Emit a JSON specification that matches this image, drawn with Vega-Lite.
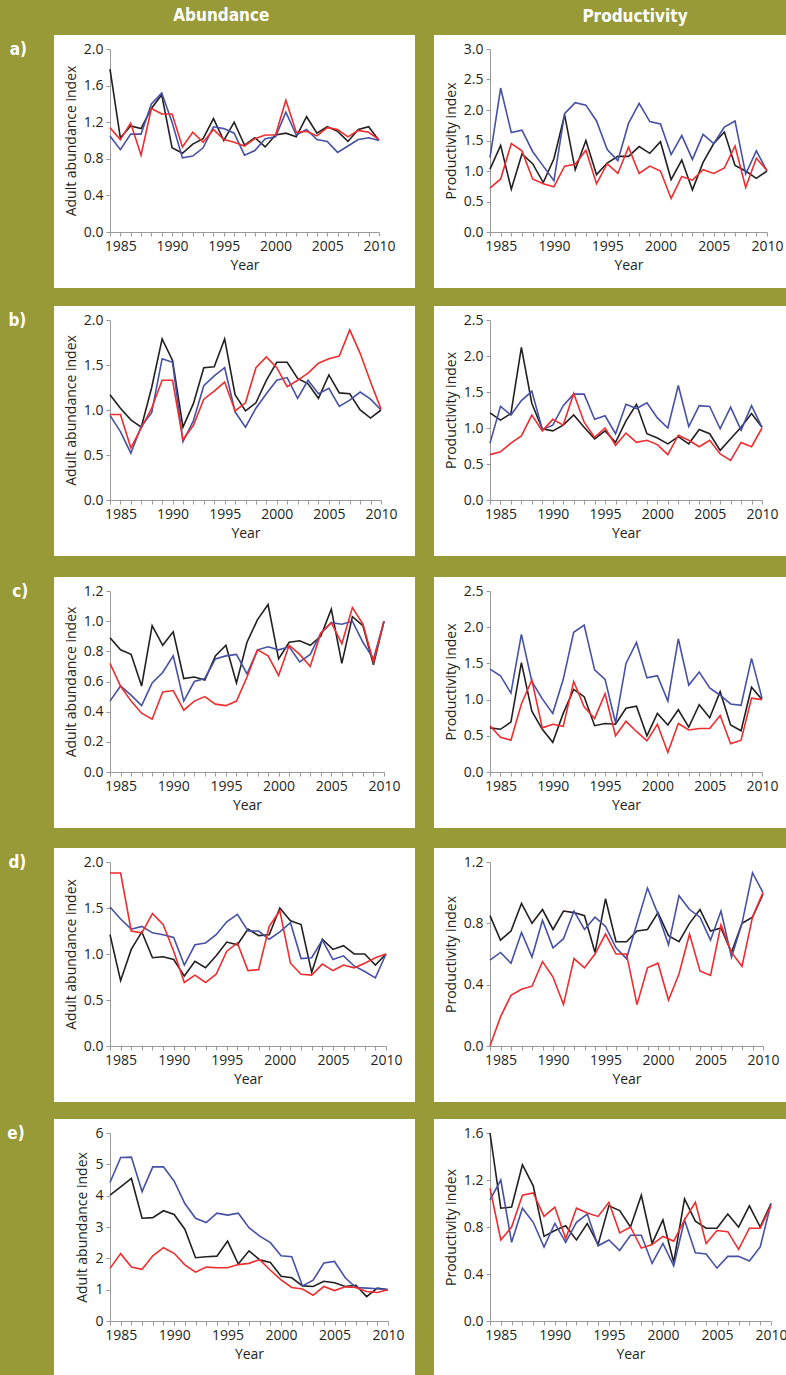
{
"$schema": "https://vega.github.io/schema/vega-lite/v6.json",
"background": "#979a37",
"padding": {"left": -49, "top": -48, "right": 0, "bottom": 0},
"bounds": "flush",
"title": {"text": "Abundance", "anchor": "start", "frame": "bounds", "offset": -73, "dx": 222},
"config": {
  "view": {"fill": "white", "stroke": "white", "strokeWidth": 112},
  "axis": {"grid": false, "domainColor": "#9a9a9a", "tickColor": "#9a9a9a", "tickSize": 4, "labelColor": "#231f20", "labelFont": "Open Sans", "labelFontSize": 14, "labelPadding": 3, "labelFlush": false, "titleFont": "Open Sans", "titleFontSize": 14, "titleFontWeight": "normal", "titleColor": "#231f20", "zindex": 1, "labelOverlap": false},
  "axisX": {"titlePadding": 5},
  "axisY": {"titlePadding": 5},
  "title": {"color": "white", "font": "DejaVu Sans Condensed, Open Sans", "fontWeight": "bold", "fontSize": 17}
},
"datasets": {
"aA": [{"year":1984,"black":1.78,"blue":1.05,"red":1.14},{"year":1985,"black":1.03,"blue":0.90,"red":1.01},{"year":1986,"black":1.16,"blue":1.07,"red":1.19},{"year":1987,"black":1.13,"blue":1.07,"red":0.84},{"year":1988,"black":1.35,"blue":1.40,"red":1.35},{"year":1989,"black":1.50,"blue":1.52,"red":1.29},{"year":1990,"black":0.92,"blue":1.20,"red":1.29},{"year":1991,"black":0.86,"blue":0.81,"red":0.93},{"year":1992,"black":0.96,"blue":0.83,"red":1.09},{"year":1993,"black":1.02,"blue":0.92,"red":0.98},{"year":1994,"black":1.24,"blue":1.15,"red":1.12},{"year":1995,"black":1.00,"blue":1.13,"red":1.01},{"year":1996,"black":1.20,"blue":1.08,"red":0.98},{"year":1997,"black":0.95,"blue":0.84,"red":0.94},{"year":1998,"black":1.03,"blue":0.89,"red":1.02},{"year":1999,"black":0.93,"blue":1.02,"red":1.06},{"year":2000,"black":1.06,"blue":1.04,"red":1.06},{"year":2001,"black":1.08,"blue":1.31,"red":1.44},{"year":2002,"black":1.04,"blue":1.06,"red":1.09},{"year":2003,"black":1.26,"blue":1.12,"red":1.10},{"year":2004,"black":1.08,"blue":1.01,"red":1.05},{"year":2005,"black":1.15,"blue":0.99,"red":1.14},{"year":2006,"black":1.10,"blue":0.87,"red":1.12},{"year":2007,"black":0.99,"blue":0.94,"red":1.04},{"year":2008,"black":1.12,"blue":1.01,"red":1.11},{"year":2009,"black":1.15,"blue":1.03,"red":1.09},{"year":2010,"black":1.00,"blue":1.00,"red":1.01}],
"aP": [{"year":1984,"black":1.03,"blue":1.22,"red":0.72},{"year":1985,"black":1.42,"blue":2.36,"red":0.87},{"year":1986,"black":0.70,"blue":1.63,"red":1.45},{"year":1987,"black":1.28,"blue":1.67,"red":1.33},{"year":1988,"black":1.12,"blue":1.32,"red":0.87},{"year":1989,"black":0.81,"blue":1.08,"red":0.79},{"year":1990,"black":1.20,"blue":0.84,"red":0.74},{"year":1991,"black":1.92,"blue":1.94,"red":1.08},{"year":1992,"black":1.02,"blue":2.12,"red":1.11},{"year":1993,"black":1.50,"blue":2.08,"red":1.34},{"year":1994,"black":0.94,"blue":1.82,"red":0.79},{"year":1995,"black":1.13,"blue":1.35,"red":1.12},{"year":1996,"black":1.24,"blue":1.17,"red":0.96},{"year":1997,"black":1.24,"blue":1.78,"red":1.39},{"year":1998,"black":1.40,"blue":2.11,"red":0.96},{"year":1999,"black":1.29,"blue":1.81,"red":1.08},{"year":2000,"black":1.48,"blue":1.77,"red":1.00},{"year":2001,"black":0.86,"blue":1.27,"red":0.55},{"year":2002,"black":1.18,"blue":1.58,"red":0.91},{"year":2003,"black":0.69,"blue":1.19,"red":0.85},{"year":2004,"black":1.14,"blue":1.60,"red":1.02},{"year":2005,"black":1.45,"blue":1.45,"red":0.96},{"year":2006,"black":1.64,"blue":1.72,"red":1.05},{"year":2007,"black":1.09,"blue":1.82,"red":1.41},{"year":2008,"black":1.00,"blue":0.95,"red":0.73},{"year":2009,"black":0.88,"blue":1.33,"red":1.21},{"year":2010,"black":1.00,"blue":1.00,"red":1.01}],
"bA": [{"year":1984,"black":1.17,"blue":0.94,"red":0.95},{"year":1985,"black":1.02,"blue":0.76,"red":0.95},{"year":1986,"black":0.89,"blue":0.52,"red":0.58},{"year":1987,"black":0.81,"blue":0.82,"red":0.80},{"year":1988,"black":1.25,"blue":0.97,"red":1.02},{"year":1989,"black":1.79,"blue":1.57,"red":1.33},{"year":1990,"black":1.55,"blue":1.53,"red":1.33},{"year":1991,"black":0.81,"blue":0.65,"red":0.67},{"year":1992,"black":1.07,"blue":0.88,"red":0.83},{"year":1993,"black":1.47,"blue":1.27,"red":1.12},{"year":1994,"black":1.48,"blue":1.38,"red":1.21},{"year":1995,"black":1.79,"blue":1.47,"red":1.31},{"year":1996,"black":1.17,"blue":0.98,"red":0.99},{"year":1997,"black":0.99,"blue":0.81,"red":1.08},{"year":1998,"black":1.08,"blue":1.02,"red":1.47},{"year":1999,"black":1.33,"blue":1.18,"red":1.59},{"year":2000,"black":1.53,"blue":1.33,"red":1.47},{"year":2001,"black":1.53,"blue":1.36,"red":1.26},{"year":2002,"black":1.35,"blue":1.13,"red":1.33},{"year":2003,"black":1.29,"blue":1.33,"red":1.41},{"year":2004,"black":1.13,"blue":1.18,"red":1.52},{"year":2005,"black":1.39,"blue":1.24,"red":1.57},{"year":2006,"black":1.19,"blue":1.04,"red":1.60},{"year":2007,"black":1.18,"blue":1.11,"red":1.89},{"year":2008,"black":1.00,"blue":1.20,"red":1.63},{"year":2009,"black":0.91,"blue":1.12,"red":1.31},{"year":2010,"black":1.00,"blue":1.00,"red":1.01}],
"bP": [{"year":1984,"black":1.21,"blue":0.79,"red":0.63},{"year":1985,"black":1.11,"blue":1.30,"red":0.67},{"year":1986,"black":1.20,"blue":1.18,"red":0.79},{"year":1987,"black":2.12,"blue":1.38,"red":0.89},{"year":1988,"black":1.34,"blue":1.51,"red":1.18},{"year":1989,"black":0.99,"blue":0.98,"red":0.96},{"year":1990,"black":0.96,"blue":1.04,"red":1.12},{"year":1991,"black":1.04,"blue":1.31,"red":1.04},{"year":1992,"black":1.18,"blue":1.47,"red":1.48},{"year":1993,"black":1.01,"blue":1.47,"red":1.08},{"year":1994,"black":0.85,"blue":1.12,"red":0.87},{"year":1995,"black":0.96,"blue":1.17,"red":1.00},{"year":1996,"black":0.80,"blue":0.92,"red":0.76},{"year":1997,"black":1.10,"blue":1.33,"red":0.93},{"year":1998,"black":1.33,"blue":1.27,"red":0.80},{"year":1999,"black":0.92,"blue":1.35,"red":0.83},{"year":2000,"black":0.86,"blue":1.14,"red":0.77},{"year":2001,"black":0.78,"blue":1.00,"red":0.63},{"year":2002,"black":0.88,"blue":1.59,"red":0.90},{"year":2003,"black":0.78,"blue":1.02,"red":0.83},{"year":2004,"black":0.98,"blue":1.31,"red":0.74},{"year":2005,"black":0.92,"blue":1.30,"red":0.83},{"year":2006,"black":0.69,"blue":0.99,"red":0.64},{"year":2007,"black":0.85,"blue":1.29,"red":0.55},{"year":2008,"black":1.01,"blue":0.97,"red":0.80},{"year":2009,"black":1.20,"blue":1.31,"red":0.74},{"year":2010,"black":1.01,"blue":1.01,"red":1.00}],
"cA": [{"year":1984,"black":0.89,"blue":0.47,"red":0.72},{"year":1985,"black":0.81,"blue":0.57,"red":0.57},{"year":1986,"black":0.78,"blue":0.51,"red":0.47},{"year":1987,"black":0.57,"blue":0.44,"red":0.39},{"year":1988,"black":0.97,"blue":0.59,"red":0.35},{"year":1989,"black":0.84,"blue":0.66,"red":0.53},{"year":1990,"black":0.93,"blue":0.77,"red":0.54},{"year":1991,"black":0.62,"blue":0.47,"red":0.41},{"year":1992,"black":0.63,"blue":0.60,"red":0.47},{"year":1993,"black":0.61,"blue":0.62,"red":0.50},{"year":1994,"black":0.77,"blue":0.75,"red":0.45},{"year":1995,"black":0.84,"blue":0.77,"red":0.44},{"year":1996,"black":0.59,"blue":0.78,"red":0.47},{"year":1997,"black":0.86,"blue":0.65,"red":0.63},{"year":1998,"black":1.01,"blue":0.81,"red":0.81},{"year":1999,"black":1.11,"blue":0.83,"red":0.77},{"year":2000,"black":0.75,"blue":0.81,"red":0.64},{"year":2001,"black":0.86,"blue":0.83,"red":0.84},{"year":2002,"black":0.87,"blue":0.73,"red":0.78},{"year":2003,"black":0.84,"blue":0.78,"red":0.70},{"year":2004,"black":0.90,"blue":0.92,"red":0.92},{"year":2005,"black":1.08,"blue":0.99,"red":0.99},{"year":2006,"black":0.72,"blue":0.98,"red":0.85},{"year":2007,"black":1.03,"blue":1.00,"red":1.09},{"year":2008,"black":0.97,"blue":0.86,"red":0.98},{"year":2009,"black":0.71,"blue":0.75,"red":0.73},{"year":2010,"black":1.00,"blue":1.00,"red":1.00}],
"cP": [{"year":1984,"black":0.61,"blue":1.42,"red":0.64},{"year":1985,"black":0.59,"blue":1.33,"red":0.48},{"year":1986,"black":0.69,"blue":1.09,"red":0.44},{"year":1987,"black":1.51,"blue":1.90,"red":0.94},{"year":1988,"black":0.84,"blue":1.25,"red":1.27},{"year":1989,"black":0.59,"blue":1.01,"red":0.61},{"year":1990,"black":0.41,"blue":0.81,"red":0.66},{"year":1991,"black":0.81,"blue":1.28,"red":0.63},{"year":1992,"black":1.14,"blue":1.93,"red":1.25},{"year":1993,"black":1.04,"blue":2.03,"red":0.90},{"year":1994,"black":0.64,"blue":1.41,"red":0.74},{"year":1995,"black":0.67,"blue":1.28,"red":1.08},{"year":1996,"black":0.66,"blue":0.68,"red":0.50},{"year":1997,"black":0.88,"blue":1.50,"red":0.70},{"year":1998,"black":0.91,"blue":1.79,"red":0.56},{"year":1999,"black":0.50,"blue":1.30,"red":0.43},{"year":2000,"black":0.81,"blue":1.33,"red":0.66},{"year":2001,"black":0.65,"blue":0.98,"red":0.27},{"year":2002,"black":0.86,"blue":1.84,"red":0.67},{"year":2003,"black":0.62,"blue":1.20,"red":0.58},{"year":2004,"black":0.93,"blue":1.38,"red":0.60},{"year":2005,"black":0.75,"blue":1.16,"red":0.60},{"year":2006,"black":1.11,"blue":1.06,"red":0.78},{"year":2007,"black":0.65,"blue":0.94,"red":0.39},{"year":2008,"black":0.57,"blue":0.92,"red":0.44},{"year":2009,"black":1.17,"blue":1.57,"red":1.02},{"year":2010,"black":1.00,"blue":1.02,"red":1.00}],
"dA": [{"year":1984,"black":1.21,"blue":1.51,"red":1.88},{"year":1985,"black":0.71,"blue":1.38,"red":1.88},{"year":1986,"black":1.05,"blue":1.27,"red":1.25},{"year":1987,"black":1.24,"blue":1.30,"red":1.23},{"year":1988,"black":0.96,"blue":1.23,"red":1.44},{"year":1989,"black":0.97,"blue":1.21,"red":1.32},{"year":1990,"black":0.94,"blue":1.18,"red":1.03},{"year":1991,"black":0.76,"blue":0.88,"red":0.69},{"year":1992,"black":0.92,"blue":1.10,"red":0.77},{"year":1993,"black":0.85,"blue":1.12,"red":0.69},{"year":1994,"black":0.98,"blue":1.21,"red":0.78},{"year":1995,"black":1.13,"blue":1.35,"red":1.03},{"year":1996,"black":1.10,"blue":1.43,"red":1.12},{"year":1997,"black":1.27,"blue":1.25,"red":0.82},{"year":1998,"black":1.20,"blue":1.25,"red":0.83},{"year":1999,"black":1.21,"blue":1.16,"red":1.30},{"year":2000,"black":1.50,"blue":1.24,"red":1.47},{"year":2001,"black":1.36,"blue":1.34,"red":0.90},{"year":2002,"black":1.32,"blue":0.95,"red":0.78},{"year":2003,"black":0.80,"blue":0.96,"red":0.77},{"year":2004,"black":1.16,"blue":1.15,"red":0.89},{"year":2005,"black":1.05,"blue":0.94,"red":0.82},{"year":2006,"black":1.09,"blue":0.98,"red":0.88},{"year":2007,"black":1.00,"blue":0.87,"red":0.85},{"year":2008,"black":1.00,"blue":0.81,"red":0.90},{"year":2009,"black":0.88,"blue":0.74,"red":0.96},{"year":2010,"black":1.00,"blue":1.00,"red":1.00}],
"dP": [{"year":1984,"black":0.85,"blue":0.56,"red":0.00},{"year":1985,"black":0.69,"blue":0.61,"red":0.19},{"year":1986,"black":0.75,"blue":0.54,"red":0.33},{"year":1987,"black":0.93,"blue":0.74,"red":0.37},{"year":1988,"black":0.80,"blue":0.58,"red":0.39},{"year":1989,"black":0.89,"blue":0.82,"red":0.55},{"year":1990,"black":0.76,"blue":0.64,"red":0.45},{"year":1991,"black":0.88,"blue":0.70,"red":0.27},{"year":1992,"black":0.87,"blue":0.88,"red":0.57},{"year":1993,"black":0.85,"blue":0.76,"red":0.51},{"year":1994,"black":0.61,"blue":0.84,"red":0.60},{"year":1995,"black":0.96,"blue":0.78,"red":0.73},{"year":1996,"black":0.68,"blue":0.64,"red":0.60},{"year":1997,"black":0.68,"blue":0.57,"red":0.60},{"year":1998,"black":0.75,"blue":0.80,"red":0.27},{"year":1999,"black":0.76,"blue":1.03,"red":0.51},{"year":2000,"black":0.87,"blue":0.86,"red":0.54},{"year":2001,"black":0.72,"blue":0.66,"red":0.30},{"year":2002,"black":0.68,"blue":0.98,"red":0.47},{"year":2003,"black":0.80,"blue":0.89,"red":0.73},{"year":2004,"black":0.89,"blue":0.84,"red":0.49},{"year":2005,"black":0.75,"blue":0.69,"red":0.46},{"year":2006,"black":0.77,"blue":0.88,"red":0.79},{"year":2007,"black":0.61,"blue":0.58,"red":0.61},{"year":2008,"black":0.80,"blue":0.80,"red":0.52},{"year":2009,"black":0.84,"blue":1.13,"red":0.84},{"year":2010,"black":0.99,"blue":1.00,"red":1.00}],
"eA": [{"year":1984,"black":4.02,"blue":4.42,"red":1.68},{"year":1985,"black":4.28,"blue":5.22,"red":2.15},{"year":1986,"black":4.55,"blue":5.23,"red":1.72},{"year":1987,"black":3.28,"blue":4.13,"red":1.65},{"year":1988,"black":3.30,"blue":4.92,"red":2.08},{"year":1989,"black":3.52,"blue":4.92,"red":2.34},{"year":1990,"black":3.40,"blue":4.46,"red":2.16},{"year":1991,"black":2.93,"blue":3.75,"red":1.79},{"year":1992,"black":2.02,"blue":3.28,"red":1.56},{"year":1993,"black":2.05,"blue":3.14,"red":1.72},{"year":1994,"black":2.07,"blue":3.44,"red":1.70},{"year":1995,"black":2.55,"blue":3.38,"red":1.70},{"year":1996,"black":1.82,"blue":3.44,"red":1.80},{"year":1997,"black":2.24,"blue":2.98,"red":1.84},{"year":1998,"black":1.95,"blue":2.71,"red":1.96},{"year":1999,"black":1.87,"blue":2.50,"red":1.62},{"year":2000,"black":1.43,"blue":2.08,"red":1.31},{"year":2001,"black":1.38,"blue":2.05,"red":1.07},{"year":2002,"black":1.12,"blue":1.12,"red":1.02},{"year":2003,"black":1.10,"blue":1.30,"red":0.82},{"year":2004,"black":1.27,"blue":1.85,"red":1.10},{"year":2005,"black":1.22,"blue":1.90,"red":0.97},{"year":2006,"black":1.10,"blue":1.38,"red":1.09},{"year":2007,"black":1.14,"blue":1.07,"red":1.07},{"year":2008,"black":0.78,"blue":1.05,"red":0.94},{"year":2009,"black":1.05,"blue":1.03,"red":0.91},{"year":2010,"black":1.00,"blue":1.00,"red":1.00}],
"eP": [{"year":1984,"black":1.60,"blue":1.03,"red":1.13},{"year":1985,"black":0.96,"blue":1.20,"red":0.69},{"year":1986,"black":0.97,"blue":0.67,"red":0.80},{"year":1987,"black":1.33,"blue":0.96,"red":1.07},{"year":1988,"black":1.15,"blue":0.84,"red":1.09},{"year":1989,"black":0.72,"blue":0.63,"red":0.89},{"year":1990,"black":0.77,"blue":0.83,"red":0.97},{"year":1991,"black":0.81,"blue":0.67,"red":0.70},{"year":1992,"black":0.69,"blue":0.84,"red":0.96},{"year":1993,"black":0.83,"blue":0.91,"red":0.92},{"year":1994,"black":0.65,"blue":0.64,"red":0.89},{"year":1995,"black":0.98,"blue":0.69,"red":1.01},{"year":1996,"black":0.94,"blue":0.60,"red":0.75},{"year":1997,"black":0.80,"blue":0.73,"red":0.80},{"year":1998,"black":1.07,"blue":0.73,"red":0.62},{"year":1999,"black":0.66,"blue":0.49,"red":0.65},{"year":2000,"black":0.86,"blue":0.66,"red":0.72},{"year":2001,"black":0.50,"blue":0.47,"red":0.68},{"year":2002,"black":1.04,"blue":0.86,"red":0.86},{"year":2003,"black":0.85,"blue":0.58,"red":1.01},{"year":2004,"black":0.79,"blue":0.57,"red":0.66},{"year":2005,"black":0.79,"blue":0.45,"red":0.77},{"year":2006,"black":0.91,"blue":0.55,"red":0.76},{"year":2007,"black":0.80,"blue":0.55,"red":0.61},{"year":2008,"black":0.98,"blue":0.51,"red":0.79},{"year":2009,"black":0.80,"blue":0.63,"red":0.79},{"year":2010,"black":1.00,"blue":1.00,"red":0.98}]
},
"spacing": 271,
"vconcat": [
 {"bounds": "flush", "spacing": 131,
  "hconcat": [
  {"title": {"text": "a)", "orient": "left", "angle": 0, "anchor": "end", "align": "right", "baseline": "top", "offset": 20},
   "data": {"name": "aA"}, "transform": [{"fold": ["black","blue","red"], "as": ["series","value"]}],
   "width": 249, "height": 141, "mark": {"type": "line", "strokeWidth": 1.6},
   "encoding": {
    "x": {"field": "year", "type": "quantitative", "scale": {"domain": [1984, 2010], "range": [0, 269], "nice": false, "zero": false}, "axis": {"title": "Year", "format": "d", "values": [1984,1985,1986,1987,1988,1989,1990,1991,1992,1993,1994,1995,1996,1997,1998,1999,2000,2001,2002,2003,2004,2005,2006,2007,2008,2009,2010], "labelExpr": "datum.value % 5 == 0 ? datum.label : ''"}},
    "y": {"field": "value", "type": "quantitative", "scale": {"domain": [0, 2], "range": [141, -42], "nice": false}, "axis": {"title": "Adult abundance index", "format": ".1f", "values": [0,0.4,0.8,1.2,1.6,2.0]}},
    "color": {"field": "series", "type": "nominal", "scale": {"domain": ["black","blue","red"], "range": ["#231f20","#4651a5","#ee2d2f"]}, "legend": null}}},
  {"title": {"text": "Productivity", "anchor": "middle", "frame": "group", "offset": 16, "dx": 18},
   "data": {"name": "aP"}, "transform": [{"fold": ["black","blue","red"], "as": ["series","value"]}],
   "width": 254, "height": 141, "mark": {"type": "line", "strokeWidth": 1.6},
   "encoding": {
    "x": {"field": "year", "type": "quantitative", "scale": {"domain": [1984, 2010], "range": [0, 277], "nice": false, "zero": false}, "axis": {"title": "Year", "format": "d", "values": [1984,1985,1986,1987,1988,1989,1990,1991,1992,1993,1994,1995,1996,1997,1998,1999,2000,2001,2002,2003,2004,2005,2006,2007,2008,2009,2010], "labelExpr": "datum.value % 5 == 0 ? datum.label : ''"}},
    "y": {"field": "value", "type": "quantitative", "scale": {"domain": [0, 3], "range": [141, -42], "nice": false}, "axis": {"title": "Productivity index", "format": ".1f", "values": [0,0.5,1.0,1.5,2.0,2.5,3.0]}},
    "color": {"field": "series", "type": "nominal", "scale": {"domain": ["black","blue","red"], "range": ["#231f20","#4651a5","#ee2d2f"]}, "legend": null}}}
 ]},
 {"bounds": "flush", "spacing": 131,
  "hconcat": [
  {"title": {"text": "b)", "orient": "left", "angle": 0, "anchor": "end", "align": "right", "baseline": "top", "offset": 20},
   "data": {"name": "bA"}, "transform": [{"fold": ["black","blue","red"], "as": ["series","value"]}],
   "width": 249, "height": 138, "mark": {"type": "line", "strokeWidth": 1.6},
   "encoding": {
    "x": {"field": "year", "type": "quantitative", "scale": {"domain": [1984, 2010], "range": [0, 271], "nice": false, "zero": false}, "axis": {"title": "Year", "format": "d", "values": [1984,1985,1986,1987,1988,1989,1990,1991,1992,1993,1994,1995,1996,1997,1998,1999,2000,2001,2002,2003,2004,2005,2006,2007,2008,2009,2010], "labelExpr": "datum.value % 5 == 0 ? datum.label : ''"}},
    "y": {"field": "value", "type": "quantitative", "scale": {"domain": [0, 2], "range": [138, -42], "nice": false}, "axis": {"title": "Adult abundance index", "format": ".1f", "values": [0,0.5,1.0,1.5,2.0]}},
    "color": {"field": "series", "type": "nominal", "scale": {"domain": ["black","blue","red"], "range": ["#231f20","#4651a5","#ee2d2f"]}, "legend": null}}},
  {"data": {"name": "bP"}, "transform": [{"fold": ["black","blue","red"], "as": ["series","value"]}],
   "width": 254, "height": 138, "mark": {"type": "line", "strokeWidth": 1.6},
   "encoding": {
    "x": {"field": "year", "type": "quantitative", "scale": {"domain": [1984, 2010], "range": [0, 272], "nice": false, "zero": false}, "axis": {"title": "Year", "format": "d", "values": [1984,1985,1986,1987,1988,1989,1990,1991,1992,1993,1994,1995,1996,1997,1998,1999,2000,2001,2002,2003,2004,2005,2006,2007,2008,2009,2010], "labelExpr": "datum.value % 5 == 0 ? datum.label : ''"}},
    "y": {"field": "value", "type": "quantitative", "scale": {"domain": [0, 2.5], "range": [138, -42], "nice": false}, "axis": {"title": "Productivity index", "format": ".1f", "values": [0,0.5,1.0,1.5,2.0,2.5]}},
    "color": {"field": "series", "type": "nominal", "scale": {"domain": ["black","blue","red"], "range": ["#231f20","#4651a5","#ee2d2f"]}, "legend": null}}}
 ]},
 {"bounds": "flush", "spacing": 131,
  "hconcat": [
  {"title": {"text": "c)", "orient": "left", "angle": 0, "anchor": "end", "align": "right", "baseline": "top", "offset": 20},
   "data": {"name": "cA"}, "transform": [{"fold": ["black","blue","red"], "as": ["series","value"]}],
   "width": 249, "height": 139, "mark": {"type": "line", "strokeWidth": 1.6},
   "encoding": {
    "x": {"field": "year", "type": "quantitative", "scale": {"domain": [1984, 2010], "range": [0, 274], "nice": false, "zero": false}, "axis": {"title": "Year", "format": "d", "values": [1984,1985,1986,1987,1988,1989,1990,1991,1992,1993,1994,1995,1996,1997,1998,1999,2000,2001,2002,2003,2004,2005,2006,2007,2008,2009,2010], "labelExpr": "datum.value % 5 == 0 ? datum.label : ''"}},
    "y": {"field": "value", "type": "quantitative", "scale": {"domain": [0, 1.2], "range": [139, -42], "nice": false}, "axis": {"title": "Adult abundance index", "format": ".1f", "values": [0,0.2,0.4,0.6,0.8,1.0,1.2]}},
    "color": {"field": "series", "type": "nominal", "scale": {"domain": ["black","blue","red"], "range": ["#231f20","#4651a5","#ee2d2f"]}, "legend": null}}},
  {"data": {"name": "cP"}, "transform": [{"fold": ["black","blue","red"], "as": ["series","value"]}],
   "width": 254, "height": 139, "mark": {"type": "line", "strokeWidth": 1.6},
   "encoding": {
    "x": {"field": "year", "type": "quantitative", "scale": {"domain": [1984, 2010], "range": [0, 272], "nice": false, "zero": false}, "axis": {"title": "Year", "format": "d", "values": [1984,1985,1986,1987,1988,1989,1990,1991,1992,1993,1994,1995,1996,1997,1998,1999,2000,2001,2002,2003,2004,2005,2006,2007,2008,2009,2010], "labelExpr": "datum.value % 5 == 0 ? datum.label : ''"}},
    "y": {"field": "value", "type": "quantitative", "scale": {"domain": [0, 2.5], "range": [139, -42], "nice": false}, "axis": {"title": "Productivity index", "format": ".1f", "values": [0,0.5,1.0,1.5,2.0,2.5]}},
    "color": {"field": "series", "type": "nominal", "scale": {"domain": ["black","blue","red"], "range": ["#231f20","#4651a5","#ee2d2f"]}, "legend": null}}}
 ]},
 {"bounds": "flush", "spacing": 131,
  "hconcat": [
  {"title": {"text": "d)", "orient": "left", "angle": 0, "anchor": "end", "align": "right", "baseline": "top", "offset": 20},
   "data": {"name": "dA"}, "transform": [{"fold": ["black","blue","red"], "as": ["series","value"]}],
   "width": 249, "height": 142, "mark": {"type": "line", "strokeWidth": 1.6},
   "encoding": {
    "x": {"field": "year", "type": "quantitative", "scale": {"domain": [1984, 2010], "range": [0, 276], "nice": false, "zero": false}, "axis": {"title": "Year", "format": "d", "values": [1984,1985,1986,1987,1988,1989,1990,1991,1992,1993,1994,1995,1996,1997,1998,1999,2000,2001,2002,2003,2004,2005,2006,2007,2008,2009,2010], "labelExpr": "datum.value % 5 == 0 ? datum.label : ''"}},
    "y": {"field": "value", "type": "quantitative", "scale": {"domain": [0, 2], "range": [142, -42], "nice": false}, "axis": {"title": "Adult abundance index", "format": ".1f", "values": [0,0.5,1.0,1.5,2.0]}},
    "color": {"field": "series", "type": "nominal", "scale": {"domain": ["black","blue","red"], "range": ["#231f20","#4651a5","#ee2d2f"]}, "legend": null}}},
  {"data": {"name": "dP"}, "transform": [{"fold": ["black","blue","red"], "as": ["series","value"]}],
   "width": 254, "height": 142, "mark": {"type": "line", "strokeWidth": 1.6},
   "encoding": {
    "x": {"field": "year", "type": "quantitative", "scale": {"domain": [1984, 2010], "range": [0, 273], "nice": false, "zero": false}, "axis": {"title": "Year", "format": "d", "values": [1984,1985,1986,1987,1988,1989,1990,1991,1992,1993,1994,1995,1996,1997,1998,1999,2000,2001,2002,2003,2004,2005,2006,2007,2008,2009,2010], "labelExpr": "datum.value % 5 == 0 ? datum.label : ''"}},
    "y": {"field": "value", "type": "quantitative", "scale": {"domain": [0, 1.2], "range": [142, -42], "nice": false}, "axis": {"title": "Productivity index", "format": ".1f", "values": [0,0.4,0.8,1.2]}},
    "color": {"field": "series", "type": "nominal", "scale": {"domain": ["black","blue","red"], "range": ["#231f20","#4651a5","#ee2d2f"]}, "legend": null}}}
 ]},
 {"bounds": "flush", "spacing": 131,
  "hconcat": [
  {"title": {"text": "e)", "orient": "left", "angle": 0, "anchor": "end", "align": "right", "baseline": "top", "offset": 34},
   "data": {"name": "eA"}, "transform": [{"fold": ["black","blue","red"], "as": ["series","value"]}],
   "width": 249, "height": 146, "mark": {"type": "line", "strokeWidth": 1.6},
   "encoding": {
    "x": {"field": "year", "type": "quantitative", "scale": {"domain": [1984, 2010], "range": [0, 278], "nice": false, "zero": false}, "axis": {"title": "Year", "format": "d", "values": [1984,1985,1986,1987,1988,1989,1990,1991,1992,1993,1994,1995,1996,1997,1998,1999,2000,2001,2002,2003,2004,2005,2006,2007,2008,2009,2010], "labelExpr": "datum.value % 5 == 0 ? datum.label : ''"}},
    "y": {"field": "value", "type": "quantitative", "scale": {"domain": [0, 6], "range": [146, -42], "nice": false}, "axis": {"title": "Adult abundance index", "format": "d", "values": [0,1,2,3,4,5,6]}},
    "color": {"field": "series", "type": "nominal", "scale": {"domain": ["black","blue","red"], "range": ["#231f20","#4651a5","#ee2d2f"]}, "legend": null}}},
  {"data": {"name": "eP"}, "transform": [{"fold": ["black","blue","red"], "as": ["series","value"]}],
   "width": 254, "height": 146, "mark": {"type": "line", "strokeWidth": 1.6},
   "encoding": {
    "x": {"field": "year", "type": "quantitative", "scale": {"domain": [1984, 2010], "range": [0, 281], "nice": false, "zero": false}, "axis": {"title": "Year", "format": "d", "values": [1984,1985,1986,1987,1988,1989,1990,1991,1992,1993,1994,1995,1996,1997,1998,1999,2000,2001,2002,2003,2004,2005,2006,2007,2008,2009,2010], "labelExpr": "datum.value % 5 == 0 ? datum.label : ''"}},
    "y": {"field": "value", "type": "quantitative", "scale": {"domain": [0, 1.6], "range": [146, -42], "nice": false}, "axis": {"title": "Productivity index", "format": ".1f", "values": [0,0.4,0.8,1.2,1.6]}},
    "color": {"field": "series", "type": "nominal", "scale": {"domain": ["black","blue","red"], "range": ["#231f20","#4651a5","#ee2d2f"]}, "legend": null}}}
 ]}
]
}
